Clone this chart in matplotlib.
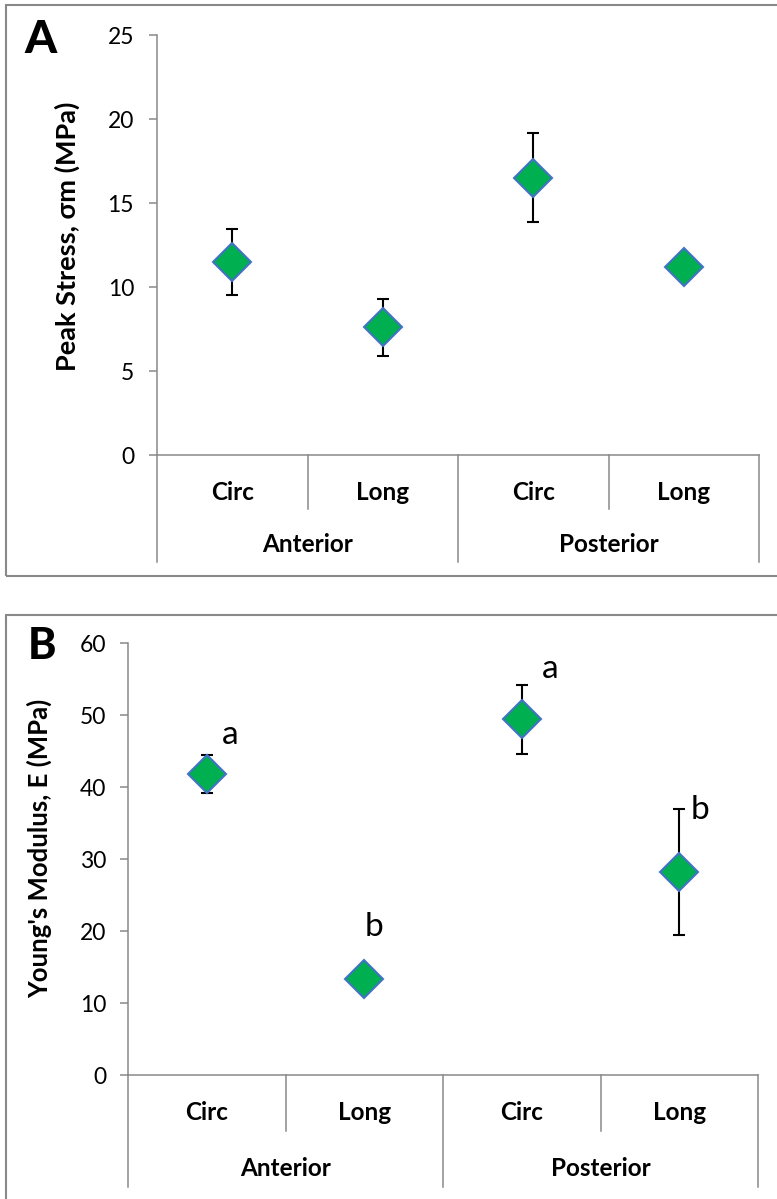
import numpy as np
import matplotlib
matplotlib.use("Agg")
import matplotlib.pyplot as plt
from matplotlib.patches import Rectangle

plt.rcParams['font.family'] = ['Lato', 'DejaVu Sans']

# données
sous_categories = ['Circ', 'Long', 'Circ', 'Long']
groupes = ['Anterior', 'Posterior']

contrainte_pic = [11.5, 7.6, 16.5, 11.2]
contrainte_err = [1.95, 1.7, 2.65, 0.3]

module_young = [41.8, 13.3, 49.4, 28.2]
module_err = [2.6, 0.5, 4.8, 8.8]
lettres_b = ['a', 'b', 'a', 'b']

W, H = 777, 1199
GRIS = '#898989'
VERT = '#00B050'
BLEU = '#4472C4'

fig = plt.figure(figsize=(W / 100, H / 100), dpi=100)

# cadres des deux panneaux
fig.add_artist(Rectangle((6 / W, 1 - 576 / H), (W + 10) / W, 571 / H, transform=fig.transFigure,
                         fill=False, edgecolor=GRIS, lw=1.5, clip_on=False))
fig.add_artist(Rectangle((6 / W, 1 - (H + 10) / H), (W + 10) / W, (H + 10 - 615) / H, transform=fig.transFigure,
                         fill=False, edgecolor=GRIS, lw=1.5, clip_on=False))


def tracer_panneau(ax, valeurs, erreurs, ymax, pas, haut_px, decal_sous, decal_grp, sep_court, sep_long, pad):
    x = np.arange(len(sous_categories))
    ax.errorbar(x, valeurs, yerr=erreurs, fmt='D', ms=19.5, mfc=VERT, mec=BLEU, mew=1.5,
                ecolor='black', elinewidth=1.5, capsize=4.5, capthick=1.5, zorder=3)
    ax.set_xlim(-0.5, len(x) - 0.5)
    ax.set_ylim(0, ymax)
    ax.set_yticks(np.arange(0, ymax + 1, pas))
    for s in ['top', 'right']:
        ax.spines[s].set_visible(False)
    for s in ['left', 'bottom']:
        ax.spines[s].set_color(GRIS)
        ax.spines[s].set_linewidth(1.1)
    ax.tick_params(axis='x', bottom=False, labelbottom=False)
    ax.tick_params(axis='y', direction='out', length=5.5, width=1.1, color=GRIS,
                   labelsize=16.5, pad=pad, labelcolor='black')

    trans = ax.get_xaxis_transform()
    # séparateurs de l'axe des catégories
    for b in np.arange(-0.5, len(x), 1.0):
        prof = sep_long if int(b + 0.5) % 2 == 0 else sep_court
        ax.plot([b, b], [0, -prof / haut_px], transform=trans, color=GRIS, lw=1.1, clip_on=False)
    for i, c in enumerate(sous_categories):
        ax.text(i, -decal_sous / haut_px, c, transform=trans, ha='center', va='center',
                fontsize=17.5, fontweight='bold')
    for j, g in enumerate(groupes):
        ax.text(2 * j + 0.5, -decal_grp / haut_px, g, transform=trans, ha='center', va='center',
                fontsize=17.5, fontweight='bold')


# Panneau A
axA = fig.add_axes([157 / W, 1 - 455 / H, (759 - 157) / W, (455 - 35) / H])
tracer_panneau(axA, contrainte_pic, contrainte_err, 25, 5, 420, 37, 90, 54, 107, 11)
fig.text(67 / W, 1 - 236 / H, 'Peak Stress, σm (MPa)', rotation=90, ha='center', va='center',
         fontsize=19.5, fontweight='bold')
fig.text(41 / W, 1 - 40 / H, 'A', ha='center', va='center', fontsize=33, fontweight='black')

# Panneau B
axB = fig.add_axes([128 / W, 1 - 1075 / H, (758 - 128) / W, (1075 - 643) / H])
tracer_panneau(axB, module_young, module_err, 60, 10, 432, 38, 93, 56, 112, 10)
fig.text(39 / W, 1 - 848 / H, "Young's Modulus, E (MPa)", rotation=90, ha='center', va='center',
         fontsize=18.5, fontweight='bold')
fig.text(42 / W, 1 - 646 / H, 'B', ha='center', va='center', fontsize=31, fontweight='black')

decalages = [(23, 39), (10, 52), (28, 50), (21, 62)]
for i, (lettre, (dx, dy)) in enumerate(zip(lettres_b, decalages)):
    axB.annotate(lettre, (i, module_young[i]), xytext=(dx * 0.72, dy * 0.72), textcoords='offset points',
                 ha='center', va='center', fontsize=24)

fig.savefig('out.png', dpi=100)
plt.close(fig)
